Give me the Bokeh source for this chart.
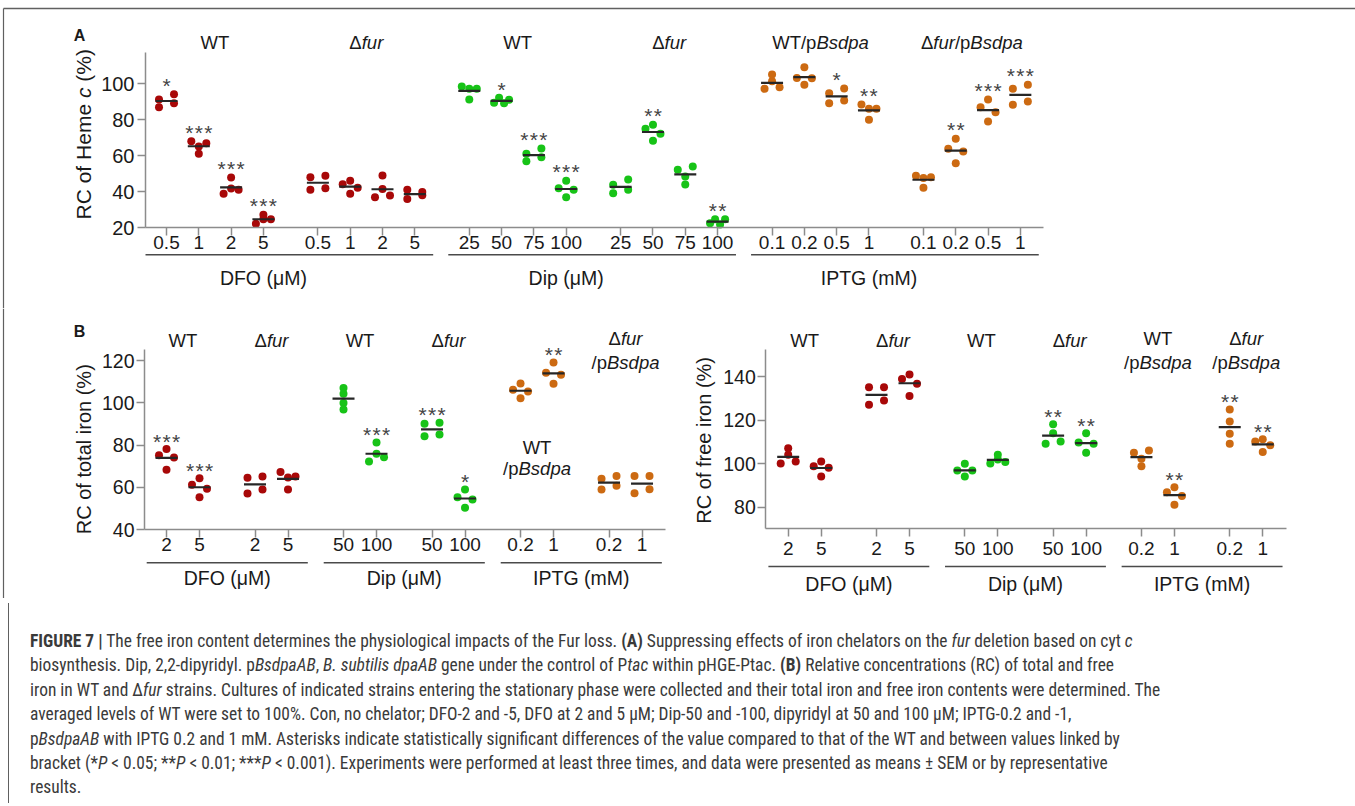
import re
import math
from bokeh.plotting import figure
from bokeh.models import LinearAxis, FixedTicker, Div, Range1d
from bokeh.layouts import column, row
from bokeh.embed import file_html
from bokeh.resources import INLINE
from bokeh.core.properties import value

FONT = "Liberation Sans"
RED, GREEN, ORANGE = "#A80808", "#17C317", "#CC6A12"
INK = "#1a1a1a"
AXIS = "#8c8c8c"
FRAME = "#606060"

# ---------------- Panel A: RC of heme c (%) ----------------
A_conc = [["0.5", "1", "2", "5"], ["0.5", "1", "2", "5"],
          ["25", "50", "75", "100"], ["25", "50", "75", "100"],
          ["0.1", "0.2", "0.5", "1"], ["0.1", "0.2", "0.5", "1"]]
A_strains = ["WT", "Δfur", "WT", "Δfur", "WT/pBsdpa", "Δfur/pBsdpa"]
A_treat = ["DFO (μM)", "Dip (μM)", "IPTG (mM)"]
A_colors = [RED, RED, GREEN, GREEN, ORANGE, ORANGE]
A_vals = [
    [[91.3, 94.2, 87.0, 89.2], [68.0, 65.1, 66.9, 61.0], [47.8, 38.8, 41.7, 41.0], [27.1, 22.1, 24.6, 24.6]],
    [[48.0, 48.8, 41.0, 41.9], [44.1, 42.1, 38.8, 46.0], [36.9, 37.8, 41.5, 49.0], [41.0, 39.7, 35.8, 38.0]],
    [[98.5, 97.2, 97.2, 91.3], [89.4, 92.2, 89.2, 91.1], [61.0, 64.0, 56.9, 59.1], [46.0, 41.9, 41.0, 36.9]],
    [[43.8, 46.7, 39.1, 41.0], [75.0, 77.2, 72.2, 68.3], [52.1, 54.0, 48.4, 43.9], [22.4, 24.6, 21.7, 24.6]],
    [[101.5, 105.2, 97.2, 98.1], [109.2, 103.3, 103.1, 99.5], [94.8, 97.4, 89.2, 90.7], [88.5, 86.1, 86.1, 80.0]],
    [[48.8, 47.5, 48.0, 42.1], [69.4, 63.8, 62.3, 55.8], [91.3, 87.0, 84.2, 79.0], [97.2, 99.5, 88.3, 90.2]],
]
A_sig = [["*", "***", "***", "***"], ["", "", "", ""], ["", "*", "***", "***"],
         ["", "**", "", "**"], ["", "", "*", "**"], ["", "**", "***", "***"]]
A_yticks = [20, 40, 60, 80, 100]
A_ylabel = "RC of Heme c (%)"

# ---------------- Panel B (left): RC of total iron (%) ----------------
B_conc = [["2", "5"], ["2", "5"], ["50", "100"], ["50", "100"], ["0.2", "1"], ["0.2", "1"]]
B_strains = ["WT", "Δfur", "WT", "Δfur", "WT\n/pBsdpa", "Δfur\n/pBsdpa"]
B_treat = ["DFO (μM)", "Dip (μM)", "IPTG (mM)"]
B_colors = [RED, RED, GREEN, GREEN, ORANGE, ORANGE]
B1_vals = [
    [[75.2, 78.1, 74.1, 68.3], [61.2, 64.3, 59.3, 55.3]],
    [[64.5, 65.1, 57.1, 59.0], [67.2, 64.7, 65.1, 59.0]],
    [[107.1, 104.3, 99.9, 96.9], [81.2, 75.9, 72.2, 74.3]],
    [[90.1, 90.6, 84.2, 85.0], [59.0, 55.3, 54.2, 50.3]],
    [[106.2, 109.2, 105.4, 102.2], [119.1, 114.3, 113.3, 109.1]],
    [[64.0, 65.3, 59.0, 60.7], [65.3, 65.3, 57.2, 59.1]],
]
B1_sig = [["***", "***"], ["", ""], ["", "***"], ["***", "*"], ["", "**"], ["", ""]]
B1_yticks = [40, 60, 80, 100, 120]
B1_ylabel = "RC of total iron (%)"

# ---------------- Panel B (right): RC of free iron (%) ----------------
B2_vals = [
    [[107.1, 104.1, 100.1, 101.0], [98.8, 101.0, 98.1, 94.1]],
    [[135.1, 135.1, 127.0, 129.0], [138.9, 140.9, 136.7, 131.1]],
    [[99.9, 96.9, 96.9, 94.1], [100.1, 101.9, 100.7, 104.1]],
    [[118.1, 114.0, 109.1, 110.2], [114.0, 109.7, 109.1, 105.0]],
    [[105.0, 106.0, 102.2, 98.8], [89.2, 86.9, 85.1, 81.1]],
    [[124.9, 119.4, 113.7, 109.1], [111.2, 110.2, 108.5, 105.3]],
]
B2_sig = [["", ""], ["", ""], ["", ""], ["**", "**"], ["", "**"], ["**", "**"]]
B2_yticks = [80, 100, 120, 140]
B2_ymin = 70
B2_ylabel = "RC of free iron (%)"

CAPTION = [
    "<b>FIGURE 7 |</b> The free iron content determines the physiological impacts of the Fur loss. <b>(A)</b> Suppressing effects of iron chelators on the <i>fur</i> deletion based on cyt <i>c</i>",
    "biosynthesis. Dip, 2,2-dipyridyl. p<i>BsdpaAB</i>, <i>B. subtilis dpaAB</i> gene under the control of P<i>tac</i> within pHGE-Ptac. <b>(B)</b> Relative concentrations (RC) of total and free",
    "iron in WT and &Delta;<i>fur</i> strains. Cultures of indicated strains entering the stationary phase were collected and their total iron and free iron contents were determined. The",
    "averaged levels of WT were set to 100%. Con, no chelator; DFO-2 and -5, DFO at 2 and 5 &mu;M; Dip-50 and -100, dipyridyl at 50 and 100 &mu;M; IPTG-0.2 and -1,",
    "p<i>BsdpaAB</i> with IPTG 0.2 and 1 mM. Asterisks indicate statistically significant differences of the value compared to that of the WT and between values linked by",
    "bracket (*<i>P</i> &lt; 0.05; **<i>P</i> &lt; 0.01; ***<i>P</i> &lt; 0.001). Experiments were performed at least three times, and data were presented as means &plusmn; SEM or by representative",
    "results.",
]

# ---------------- helpers ----------------
W_ARIAL = {' ': 278, '(': 333, ')': 333, '%': 889, '/': 278, 'R': 722, 'C': 722, 'H': 722,
           'W': 944, 'T': 611, 'B': 667, 'D': 722, 'F': 611, 'O': 778, 'M': 833, 'a': 556,
           'b': 556, 'c': 500, 'd': 556, 'e': 556, 'f': 278, 'm': 833, 'o': 556, 'p': 556,
           'r': 333, 's': 500, 'u': 556, 'Δ': 668, 'μ': 576}


def tw(s, fs):
    return sum(W_ARIAL.get(ch, 556) for ch in s) / 1000.0 * fs


def segs_of(s):
    parts = re.split(r"(fur|Bsdpa|(?<= )c(?= \())", s)
    return [(t, "italic" if t in ("fur", "Bsdpa", "c") else "normal") for t in parts if t]


class Panel:
    def __init__(self, left, top, W, H, sx, x0, sy, y0, v0):
        self.sx, self.sy, self.x0, self.y0, self.v0 = sx, sy, x0, y0, v0
        self.left, self.top, self.W, self.H = left, top, W, H
        xr = Range1d((left - x0) / sx, (left + W - x0) / sx)
        yr = Range1d(v0 - (top + H - y0) / sy, v0 + (y0 - top) / sy)
        p = figure(width=W, height=H, x_range=xr, y_range=yr, x_axis_type=None,
                   y_axis_type=None, toolbar_location=None, output_backend="svg",
                   min_border=0)
        p.outline_line_color = None
        p.background_fill_color = "white"
        p.border_fill_color = "white"
        self.p = p

    def X(self, px):
        return (px - self.x0) / self.sx

    def Y(self, py):
        return self.v0 + (self.y0 - py) / self.sy

    def PX(self, x):
        return self.x0 + x * self.sx

    def PY(self, v):
        return self.y0 - (v - self.v0) * self.sy

    def text(self, x, y, t, fs, style="normal", align="center", baseline="middle",
             color=INK, angle=0.0):
        self.p.text(x=[x], y=[y], text=[t], text_font=value(FONT), text_font_style=style,
                    text_font_size=f"{fs}px", text_color=color, text_align=align,
                    text_baseline=baseline, angle=angle)

    def rich(self, s, cx_px, cy_px, fs, color=INK, vertical=False):
        segs = segs_of(s)
        total = sum(tw(t, fs) for t, _ in segs)
        pos = (cx_px - total / 2) if not vertical else (cy_px + total / 2)
        for t, st in segs:
            core = t.strip(" ")
            lead = tw(t[:len(t) - len(t.lstrip(" "))], fs)
            if vertical:
                self.text(self.X(cx_px), self.Y(pos - lead), core, fs, style=st, align="left",
                          color=color, angle=math.pi / 2)
                pos -= tw(t, fs)
            else:
                self.text(self.X(pos + lead), self.Y(cy_px), core, fs, style=st, align="left",
                          color=color)
                pos += tw(t, fs)

    def frame_lines(self, top_y=None, left_x=None):
        if top_y is not None:
            self.p.segment(x0=[self.X(left_x)], x1=[self.X(self.left + self.W)],
                           y0=[self.Y(top_y)], y1=[self.Y(top_y)], line_color=FRAME,
                           line_width=1.5)
        if left_x is not None:
            y_from = top_y if top_y is not None else self.top
            self.p.segment(x0=[self.X(left_x)], x1=[self.X(left_x)], y0=[self.Y(y_from)],
                           y1=[self.Y(self.top + self.H)], line_color=FRAME, line_width=1.2)


def swarm(vals, sy, thr_px=5.6, half_px=7.5):
    order = sorted(range(len(vals)), key=lambda i: vals[i])
    rows = []
    for i in order:
        if rows and (vals[i] - vals[rows[-1][0]]) * sy <= thr_px:
            rows[-1].append(i)
        else:
            rows.append([i])
    off = [0.0] * len(vals)
    for r in rows:
        r = sorted(r)
        n = len(r)
        for k, i in enumerate(r):
            off[i] = 0.0 if n == 1 else -half_px + 2 * half_px * k / (n - 1)
    return off


def style_axis(ax, fs, standoff):
    ax.axis_line_color = AXIS
    ax.axis_line_width = 1.5
    ax.major_tick_line_color = AXIS
    ax.major_tick_line_width = 1.5
    ax.major_tick_out = 8
    ax.major_tick_in = 0
    ax.minor_tick_out = 0
    ax.minor_tick_in = 0
    ax.major_label_text_font = FONT
    ax.major_label_text_font_size = f"{fs}px"
    ax.major_label_text_color = INK
    ax.major_label_standoff = standoff


def build(pn, conc, vals, colors, sig, gap, yticks, ymin, ybounds_top, yaxis_px, xaxis_end_px,
          fs_y, fs_x, sy_off, sx_off, star_gap, line_y_px, cat_y_px, treat, cat_at,
          ul_left, ul_right):
    p = pn.p
    npg = len(conc[0])
    ticks, labels = [], []
    for g, cl in enumerate(conc):
        for i, c in enumerate(cl):
            ticks.append(round(g * gap + i, 4))
            labels.append(c)
    yax = LinearAxis(fixed_location=pn.X(yaxis_px), bounds=(ymin, ybounds_top),
                     ticker=FixedTicker(ticks=yticks))
    style_axis(yax, fs_y, sy_off)
    p.add_layout(yax, "left")
    xax = LinearAxis(fixed_location=ymin, bounds=(pn.X(yaxis_px), pn.X(xaxis_end_px)),
                     ticker=FixedTicker(ticks=ticks),
                     major_label_overrides={t: l for t, l in zip(ticks, labels)})
    style_axis(xax, fs_x, sx_off)
    p.add_layout(xax, "below")
    for g, gv in enumerate(vals):
        xs, ys = [], []
        mx0, mx1, my = [], [], []
        for i, v in enumerate(gv):
            xt = ticks[g * npg + i]
            offs = swarm(v, pn.sy)
            xs += [xt + o / pn.sx for o in offs]
            ys += v
            m = sum(v) / len(v)
            mx0.append(xt - 11 / pn.sx)
            mx1.append(xt + 11 / pn.sx)
            my.append(m)
            s = sig[g][i]
            if s:
                fs = 21
                base_py = pn.PY(max(v)) - star_gap + 0.58 * fs
                n = len(s)
                for k in range(n):
                    pn.text(xt + (k - (n - 1) / 2) * 9.5 / pn.sx, pn.Y(base_py), "*", fs,
                            baseline="alphabetic", color="#444444")
        p.scatter(xs, ys, size=8, fill_color=colors[g], line_color=None)
        p.segment(x0=mx0, x1=mx1, y0=my, y1=my, line_color="#262626", line_width=2.2)
    for t, name in enumerate(treat):
        first = ticks[2 * t * npg]
        last = ticks[2 * t * npg + 2 * npg - 1]
        p.segment(x0=[first - ul_left], x1=[last + ul_right], y0=[pn.Y(line_y_px)],
                  y1=[pn.Y(line_y_px)], line_color="#4a4a4a", line_width=1.5)
        cx = ticks[2 * t * npg + cat_at] if cat_at is not None else (first + last) / 2
        pn.text(cx, pn.Y(cat_y_px), name, 19.5)
    return ticks


# ---------------- Panel A ----------------
PA = Panel(0, 0, 1355, 308, 32.3, 166, 1.796, 227, 20)
PA.frame_lines(top_y=8, left_x=3)
tA = build(PA, A_conc, A_vals, A_colors, A_sig, 4.687, A_yticks, A_yticks[0], 117.4, 145, 1043,
           20, 19, 3, 0, 21, 254.3, 277, A_treat, 3, 0.65, 0.57)
for g, s in enumerate(A_strains):
    cx = (tA[g * 4] + tA[g * 4 + 3]) / 2
    PA.rich(s, PA.PX(cx), 42, 18.5)
PA.text(PA.X(79), PA.Y(35), "A", 16, style="bold")
PA.rich(A_ylabel, 83, 133.8, 21, vertical=True)

# ---------------- Panel B left ----------------
PB1 = Panel(0, 308, 680, 290, 33, 166, 2.11, 529, 40)
PB1.frame_lines(left_x=3)
tB1 = build(PB1, B_conc, B1_vals, B_colors, B1_sig, 2.682, B1_yticks, B1_yticks[0], 125.2, 144,
            665, 19.5, 19, 2, 0, 20, 562.3, 577, B_treat, None, 0.6, 0.6)
B1_header_y = [[340], [340], [340], [340], [447, 468], [338, 362]]
for g, s in enumerate(B_strains):
    cx = PB1.PX((tB1[g * 2] + tB1[g * 2 + 1]) / 2)
    for line, yy in zip(s.split("\n"), B1_header_y[g]):
        PB1.rich(line, cx, yy, 18.5)
PB1.text(PB1.X(79), PB1.Y(331), "B", 16, style="bold")
PB1.rich(B1_ylabel, 83, 436.5, 20, vertical=True)

# ---------------- Panel B right ----------------
PB2 = Panel(680, 308, 675, 290, 33, 787.7, 2.178, 506.7, 80)
tB2 = build(PB2, B_conc, B2_vals, B_colors, B2_sig, 2.676, B2_yticks, B2_ymin, 152.3, 765.3,
            1286, 19.5, 19, 2, 5, 20, 566, 583, B_treat, None, 0.6, 0.6)
B2_header_y = [[340], [340], [340], [340], [338, 361.7], [338, 361.7]]
for g, s in enumerate(B_strains):
    cx = PB2.PX((tB2[g * 2] + tB2[g * 2 + 1]) / 2)
    for line, yy in zip(s.split("\n"), B2_header_y[g]):
        PB2.rich(line, cx, yy, 18.5)
PB2.rich(B2_ylabel, 703.3, 436.5, 20, vertical=True)

# ---------------- caption ----------------
cap_html = ("<div style=\"margin-left:3px;border-left:1.2px solid " + FRAME + ";height:200px;"
            "box-sizing:border-box;\"><div style=\"font-family:'Liberation Sans Narrow',"
            "'Roboto Condensed','DejaVu Sans Condensed','Liberation Sans',sans-serif;"
            "font-size:17.43px;line-height:24.4px;color:#3a3a3a;padding:26px 0 0 21px;"
            "white-space:nowrap;\">" + "<br>".join(CAPTION) + "</div></div>")
cap = Div(text=cap_html, width=1355, height=200)

layout = column(PA.p, row(PB1.p, PB2.p), cap)
open("out.html", "w").write(file_html(layout, INLINE))
